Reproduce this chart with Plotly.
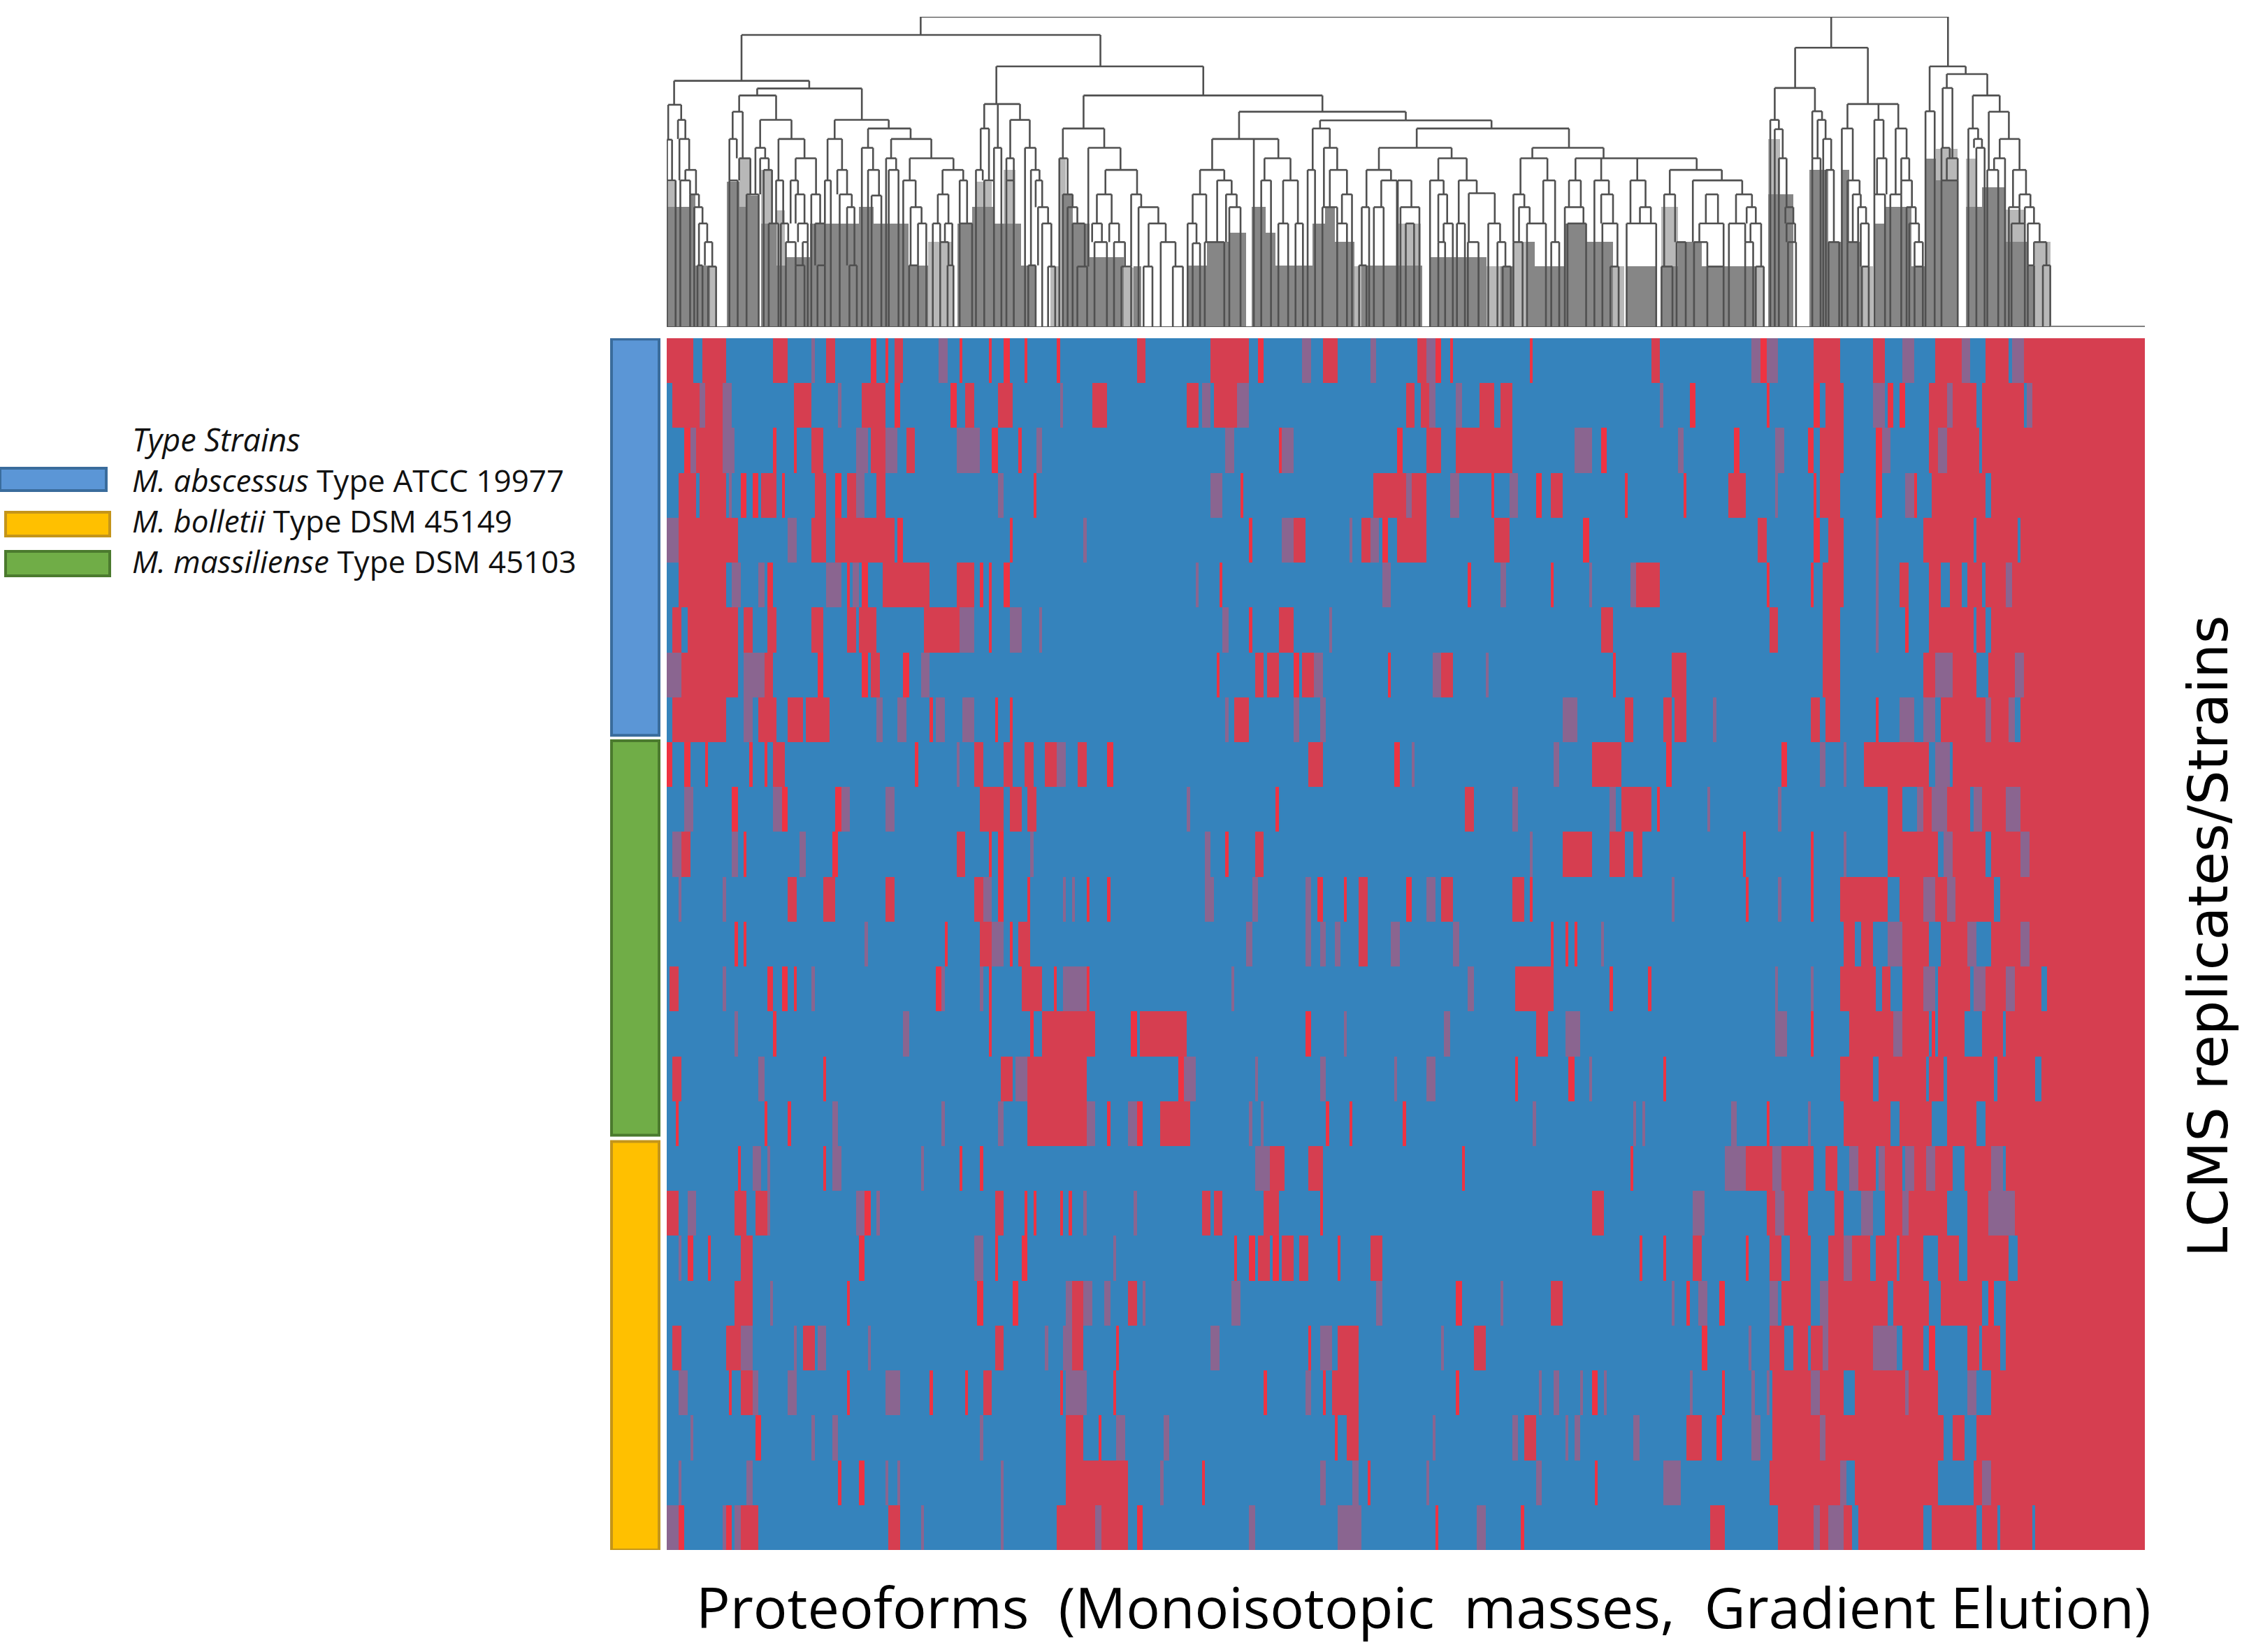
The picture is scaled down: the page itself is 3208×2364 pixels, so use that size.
import plotly.graph_objects as go

W, H = 3208, 2364
N_COLS = 500
N_ROWS = 27

# red (present) column spans for every replicate row, top to bottom
red_spans = [
 [[0,9],[12,20],[36,41],[54,57],[69,71],[74,75],[77,80],[99,100],[109,110],[114,116],[121,122],[132,133],[159,162],[184,197],[200,202],[222,227],[254,257],[260,262],[265,266],[292,293],[333,336],[370,372],[388,397],[408,412],[429,438],[446,454],[459,500]],
 [[2,11],[13,19],[43,49],[66,74],[77,79],[96,98],[101,104],[112,117],[144,149],[176,180],[185,193],[250,253],[255,258],[275,280],[282,286],[346,348],[372,373],[388,390],[392,398],[413,415],[417,419],[427,433],[435,443],[445,459],[462,500]],
 [[6,8],[10,19],[36,37],[43,44],[49,53],[69,74],[81,84],[110,112],[119,120],[207,208],[247,249],[257,262],[267,286],[316,318],[361,363],[386,388],[390,398],[409,411],[427,430],[433,444],[445,500]],
 [[4,10],[11,20],[25,27],[29,31],[32,37],[39,40],[50,54],[57,59],[61,64],[71,74],[124,125],[194,195],[239,250],[252,257],[279,280],[294,296],[299,303],[324,325],[344,345],[359,365],[388,389],[390,397],[409,411],[422,423],[428,446],[448,500]],
 [[4,24],[49,54],[57,77],[78,80],[116,117],[197,198],[212,216],[235,238],[242,244],[247,257],[280,285],[310,312],[369,372],[388,390],[393,398],[425,442],[443,457],[458,500]],
 [[4,20],[34,36],[61,62],[66,68],[73,89],[98,104],[106,107],[109,110],[114,116],[187,188],[271,272],[299,300],[328,336],[372,373],[387,388],[391,398],[417,420],[427,431],[434,438],[440,445],[446,453],[455,500]],
 [[2,5],[7,24],[26,29],[34,37],[49,53],[61,64],[65,71],[87,99],[109,110],[197,198],[207,212],[316,320],[373,376],[391,397],[419,420],[427,442],[443,446],[448,500]],
 [[5,24],[33,36],[51,53],[66,68],[69,72],[80,82],[186,187],[199,202],[203,207],[212,214],[215,219],[244,245],[262,266],[320,321],[340,345],[391,397],[425,429],[435,443],[447,456],[459,500]],
 [[2,20],[31,37],[41,46],[47,55],[89,90],[111,112],[116,117],[192,197],[324,327],[337,340],[341,345],[387,390],[392,397],[409,410],[431,446],[448,454],[458,500]],
 [[0,2],[6,8],[13,14],[28,29],[33,34],[36,40],[84,85],[104,107],[114,117],[121,124],[128,132],[139,142],[149,151],[217,222],[246,248],[313,323],[338,340],[377,379],[405,427],[435,500]],
 [[22,24],[39,41],[57,59],[106,114],[116,120],[122,125],[206,207],[270,273],[323,333],[335,336],[413,418],[425,428],[433,441],[445,453],[458,500]],
 [[5,8],[26,27],[56,58],[98,101],[109,110],[112,114],[189,190],[199,202],[303,313],[319,324],[327,330],[364,365],[387,388],[413,430],[435,446],[448,458],[461,500]],
 [[41,44],[53,57],[74,77],[104,107],[112,114],[122,123],[142,143],[149,150],[220,222],[229,230],[234,237],[250,252],[262,266],[286,290],[292,293],[365,366],[387,388],[397,413],[417,425],[429,433],[436,449],[451,500]],
 [[23,24],[26,27],[94,95],[106,110],[116,117],[119,123],[234,237],[299,300],[304,305],[307,308],[398,402],[404,408],[418,427],[431,440],[448,458],[461,500]],
 [[1,4],[34,36],[39,41],[43,44],[91,93],[109,110],[120,127],[131,132],[142,143],[287,300],[319,320],[332,333],[397,409],[411,414],[418,425],[430,441],[446,453],[456,465],[467,500]],
 [[36,37],[109,110],[123,124],[127,145],[157,159],[160,176],[216,218],[294,298],[387,388],[400,415],[418,427],[428,429],[430,439],[445,452],[453,500]],
 [[2,5],[53,54],[113,117],[122,142],[173,175],[287,288],[305,307],[337,338],[397,408],[410,426],[427,432],[433,449],[450,463],[465,500]],
 [[3,4],[33,34],[41,42],[122,142],[149,150],[159,161],[167,177],[223,224],[231,232],[249,250],[372,373],[398,414],[417,428],[433,443],[446,500]],
 [[24,25],[53,54],[99,100],[106,107],[204,209],[217,222],[269,270],[326,327],[365,374],[377,388],[392,396],[403,409],[412,418],[422,426],[429,435],[439,448],[453,500]],
 [[0,4],[23,27],[30,34],[67,69],[111,114],[121,122],[124,125],[133,134],[136,137],[181,184],[185,188],[202,207],[221,222],[313,317],[372,375],[378,386],[395,398],[412,418],[420,433],[440,447],[456,500]],
 [[7,9],[14,15],[25,29],[65,67],[111,112],[120,122],[192,193],[197,199],[200,204],[205,207],[208,212],[214,217],[227,228],[238,242],[329,330],[337,338],[347,350],[365,366],[373,377],[380,387],[393,398],[401,407],[409,416],[417,425],[430,437],[440,454],[457,500]],
 [[23,29],[61,62],[105,107],[117,119],[137,141],[156,159],[267,269],[299,303],[345,346],[356,358],[377,387],[393,413],[415,427],[431,445],[447,449],[453,500]],
 [[2,5],[20,25],[46,50],[111,114],[137,141],[152,153],[217,218],[227,234],[273,277],[350,352],[373,378],[381,386],[387,391],[393,408],[418,425],[427,429],[440,444],[445,451],[453,500]],
 [[21,22],[25,29],[61,62],[89,90],[101,102],[107,110],[133,134],[151,152],[202,203],[222,223],[225,234],[267,268],[313,315],[357,358],[374,387],[390,398],[402,419],[420,430],[448,500]],
 [[30,32],[135,141],[146,147],[226,227],[230,234],[290,294],[345,350],[355,357],[374,390],[392,432],[435,439],[443,500]],
 [[58,59],[65,67],[135,156],[181,182],[237,238],[314,315],[373,397],[402,430],[442,445],[448,500]],
 [[4,6],[20,22],[25,31],[75,79],[132,145],[147,156],[159,161],[260,261],[289,290],[353,358],[376,388],[390,393],[398,401],[403,425],[428,443],[445,450],[451,462],[463,500]],
]

# intermediate (muted purple) column spans for every replicate row
purple_spans = [
 [[49,50],[92,95],[215,218],[238,240],[257,260],[367,370],[372,376],[418,422],[438,441],[455,459]],
 [[11,13],[19,22],[58,59],[133,134],[181,184],[193,197],[258,260],[267,269],[336,337],[408,412],[433,435],[460,462]],
 [[8,10],[19,23],[64,68],[74,78],[98,106],[125,127],[189,192],[208,212],[307,313],[342,344],[375,378],[411,414],[430,433]],
 [[21,22],[64,67],[112,114],[184,188],[250,252],[265,268],[285,288],[375,376],[419,422]],
 [[0,4],[41,44],[141,142],[208,212],[231,232],[238,241],[409,410]],
 [[22,25],[31,33],[54,59],[63,65],[179,180],[242,245],[282,284],[312,313],[326,328],[409,410],[453,455]],
 [[99,104],[116,120],[126,127],[188,190],[224,225],[409,410]],
 [[0,5],[26,33],[86,89],[219,222],[259,262],[277,278],[429,435],[456,459]],
 [[26,29],[71,73],[78,81],[91,94],[100,104],[189,190],[212,214],[221,223],[303,308],[354,355],[417,422],[425,429],[446,448],[454,456]],
 [[98,99],[132,135],[252,253],[300,302],[390,392],[398,399],[429,434]],
 [[6,9],[36,39],[59,62],[74,77],[176,177],[286,288],[319,321],[352,353],[376,377],[423,425],[428,433],[442,445],[453,458]],
 [[2,5],[22,24],[45,47],[123,124],[182,184],[292,293],[398,399],[432,435],[458,461]],
 [[4,5],[19,20],[107,110],[134,135],[137,138],[182,185],[198,200],[216,218],[257,260],[340,341],[376,377],[425,429],[433,436]],
 [[67,68],[110,114],[196,198],[216,218],[221,223],[226,228],[245,248],[266,268],[316,317],[413,418],[440,443],[458,461]],
 [[19,20],[49,50],[93,94],[106,107],[134,142],[191,192],[271,273],[375,376],[387,388],[425,429],[442,446],[453,456]],
 [[23,24],[80,82],[229,230],[263,265],[304,309],[375,379],[415,418]],
 [[31,33],[118,122],[175,179],[199,200],[221,223],[246,247],[257,260],[312,313]],
 [[56,58],[93,94],[112,114],[142,145],[156,159],[197,198],[201,202],[293,294],[327,328],[330,331],[360,362],[386,387]],
 [[29,32],[34,35],[56,59],[86,87],[199,204],[358,365],[374,377],[400,403],[410,412],[419,422],[426,429],[448,452]],
 [[7,10],[34,35],[64,67],[71,72],[141,142],[158,159],[347,351],[375,378],[404,408],[418,420],[447,456]],
 [[4,5],[104,107],[151,152],[398,401]],
 [[35,36],[135,137],[141,144],[148,150],[161,162],[191,194],[240,242],[282,283],[340,341],[349,352],[373,376],[390,393]],
 [[25,29],[43,44],[51,54],[68,69],[128,129],[134,137],[184,187],[221,225],[262,263],[366,367],[391,393],[408,416]],
 [[4,7],[29,31],[41,44],[74,79],[135,142],[216,218],[295,296],[300,302],[309,310],[317,318],[346,347],[367,368],[372,373],[387,390],[419,420],[440,443]],
 [[8,9],[49,50],[56,58],[106,107],[152,155],[168,170],[259,260],[286,288],[304,305],[307,309],[327,329],[367,370],[390,392]],
 [[4,5],[27,29],[74,75],[78,79],[113,114],[167,168],[221,223],[232,234],[257,258],[294,296],[337,343],[397,399],[445,448]],
 [[0,4],[19,20],[23,25],[86,87],[113,114],[145,147],[197,199],[227,235],[274,277],[388,390],[393,398]],
]

# dendrogram merges: left leaf position, right leaf position, merge height
merges = [
 (85.9,433.4,1333),(25.3,146.7,1255),(381.7,406.3,1200),(427.2,439.4,1120),(111.5,181.5,1120),
 (433,446.7,1087),(2.5,48.2,1058),(374.8,388.4,1027),(30.6,66,1025),(141,221.8,995),(24.5,37,995),(441.8,450.9,995),
 (107.4,119.5,958),(399.4,416.6,958),(0.5,4.9,955),(425.8,428.9,927),(387.5,390.8,927),(193.6,250,925),(22.3,25.7,925),(447.2,454,925),(431.6,434.9,1027),
 (31.6,42.2,890),(56.8,75.1,890),(3.8,6.3,890),(116.2,122.8,890),(373.3,376.2,890),(389.3,392,890),(408.5,411.6,890),(221,279,888),
 (68.1,82.5,853),(106.2,109,853),(134,148,853),(218.5,224.3,853),(253.7,305.2,853),(397.5,401.2,853),(415.7,419.4,853),(440.3,443.6,853),(374.8,377.5,850),
 (4.3,7.6,808),(0.1,1.8,805),(21.2,23.7,808),(37.8,46.6,808),(54.4,59.3,808),(75.9,89.5,808),(184.5,206.9,808),(391.2,393.9,808),(450.9,457.6,808),(442.2,444.9,808),
 (30,33.3,770),(66,69.8,770),(110.7,113.2,770),(121.2,124.8,770),(142.6,153.5,770),(222.3,226.8,770),(240.9,265.5,770),(292.8,316.9,770),(431.2,434,770),(443,445.8,770),
 (24.5,28.3,725),(31.6,34.5,725),(43.6,50.5,725),(74.2,77.6,725),(82.2,97,725),(114.9,117.4,725),(132.8,135.6,725),(202.2,211,725),(261,270.6,725),(288.8,297.9,725),(307.4,348.4,725),(376.2,378.8,725),(387.5,390.3,725),(409.4,412.6,725),(417.6,420.3,725),(433,436.7,725),(449,452.7,725),
 (6.3,9.9,675),(32.8,35.6,675),(57.7,61,675),(68.1,71.8,675),(75.1,78.4,675),(93.3,100.3,675),(104.6,106.9,675),(123.2,126.1,675),(148.4,159.1,675),(180.4,188.6,675),(216.8,219.3,675),(224.3,230.1,675),(236.7,245,675),(339.3,356.9,675),(392.1,394.8,675),(446.7,450.4,675),(455.4,459.8,675),
 (0.1,3,630),(4.6,7.9,630),(21.2,24,630),(37,39.4,630),(41.9,44.4,630),(53.5,55.5,630),(80,84.2,630),(99.1,101.6,630),(107.4,110.7,630),(114.9,117.4,630),(124.8,127,630),(186.2,191.1,630),(201.1,204.4,630),(208.5,213.5,630),(241.7,247,630),(247.3,251.9,630),(258.2,262.8,630),(267.9,274,630),(296.5,300.5,630),(305.2,309.2,630),(313.8,318.7,630),(326,331.1,630),(347.1,363.8,630),(399.4,403.5,630),(417.6,421.2,630),(431.2,436.7,630),
 (271.3,280.1,575),(7.9,10.9,570),(27,31.1,570),(43.6,46.6,570),(48.9,51.9,570),(58.5,62.6,570),(91.7,95.3,570),(134,137.3,570),(145.5,150.5,570),(157.1,160.5,570),(177.9,182.5,570),(189.2,192.8,570),(228.4,231.8,570),(261,264,570),(286.4,290.1,570),(316.1,320.1,570),(337.4,341.1,570),(351.5,355.6,570),(361.7,367.1,570),(401.2,403.9,570),(408.5,412.1,570),(413.9,417.6,570),(457.6,461.3,570),(69.3,72.6,565),
 (9.3,12.1,515),(61,63.5,515),(82.5,86.2,515),(125.6,129,515),(135.6,138.9,515),(159.6,166.3,515),(190.3,194.1,515),(221.8,226.8,515),(235.1,237.6,515),(239.2,242.5,515),(248.2,254.6,515),(288.3,291.9,515),(303.8,310.1,515),(329.2,332.9,515),(365.3,368.4,515),(378.4,381.1,515),(403,405.7,515),(419.4,422.5,515),(454,457.6,515),(459.4,462.5,515),
 (10.9,13.7,445),(34.5,37.8,445),(38.6,41.1,445),(44.4,47.7,445),(50.2,53.5,445),(85,87.8,445),(90,92.5,445),(94.1,96.6,445),(99.1,103.3,445),(127,130.1,445),(137.3,141.4,445),(143.9,147.2,445),(149.7,153,445),(163,168.8,445),(176.2,179.2,445),(206.9,210.2,445),(212.7,215.2,445),(226.8,230.1,445),(250,252.8,445),(262.8,265.9,445),(267.3,270,445),(277.9,281.9,445),(291,297.4,445),(304.7,311,445),(316.5,321.6,445),(324.7,334.7,445),(349.3,357.5,445),(359.3,364.8,445),(366.6,370.2,445),(378.8,381.7,445),(403.9,406.6,445),(420.3,423.6,445),(454.9,459.4,445),(460.4,464.4,445),
 (12.9,15.4,365),(40.3,43.6,365),(46,47.7,365),(92.5,95.3,365),(144.7,148.9,365),(151.3,155,365),(167.1,172.1,365),(182,188.6,365),(261,263.3,365),(271,274.6,365),(281,283.7,365),(286.4,289.5,365),(299.2,301.9,365),(341.6,344.7,365),(347.5,352,365),(364.8,367.5,365),(379.3,382,365),(393,396.6,365),(399.4,403,365),(422.1,424.9,365),(462.5,466.7,365),(177.9,180.4,360),
 (10.4,12.1,265),(43.6,46.6,265),(51,53.5,265),(61.8,64.3,265),(82,85,265),(95,97,265),(122.3,124.8,265),(234.2,236.7,265),(460.4,462.5,265),(465.5,468,265),
 (14,16.7,260),(129,131.4,260),(138.9,142.2,260),(153.8,157.1,260),(161.3,164.3,260),(171.2,174.6,260),(282.8,285.5,260),(319.2,322,260),(336.5,340.2,260),(352,357.5,260),(368.4,371.1,260),(404.3,406.6,260),(422.1,424.9,260),
]
# extra legs of merges that join more than two branches: leaf position, height
extra_legs = [(393.9,1333),(112,958),(409.9,958),(198.6,808),(316.1,725),(328.3,725)]

# filled stem bands at the foot of the dendrogram: first leaf, last leaf, height
dark_bands = [
 (0.1,8,515),(8,9.6,570),(9.6,14.6,265),(20.4,24.5,625),(24.5,27,515),(27,31.1,565),(32,37,445),(37,40.3,265),(40.3,48.5,300),(48.5,65,445),(65,70,515),(70,81.7,445),(81.7,88.3,265),(98.3,103.3,445),(103.3,110.7,515),(110.7,119.8,445),(119.8,124.8,265),
 (134,137.3,570),(137.3,143,445),(143,154.6,300),(158,160.5,260),(176,182.8,265),(182.8,190.3,365),(190.3,196,405),(197.8,202.7,515),(202.7,206,405),(206,218.5,265),(218.5,222.6,445),(222.6,226,515),(226,232.6,365),(235,255.5,265),
 (258,277.3,300),(282,286.5,260),(291,293.7,365),(293.7,303.7,260),(303.7,311,445),(311,320,365),(324.7,334.7,260),(336.5,342,260),(342,350,365),(350,368.4,260),(372.6,381,570),(386.6,393,675),(393,397.5,365),(397.5,400,675),(400,404,365),(408.5,412,445),(412,421,515),(421,425.8,260),(425.8,429.4,725),(429.4,436.7,630),(439.4,444.9,515),(444.9,453,600),(453,460.4,365),(460.4,463,265),
]
light_bands = [
 (0.1,3,625),(14.6,16.7,260),(24.5,28.3,725),(32,36,675),(37,40,500),(88.3,96.6,365),(104.6,110,625),(114,118,675),(129.8,133,260),(132.8,135,725),(154.6,158,255),(232.6,235,260),(247,255,445),(277.3,282,260),(286.5,291,365),(320,323.8,260),(336.5,342,515),(368.4,371,260),(372.6,376.5,808),(404,408,260),(425.8,429,725),(429.4,436.7,765),(439.4,443,725),(453,459,505),(463,468,365),
]

# strain bars beside the heatmap: name, first row edge, last row edge
strain_groups = [("M. abscessus", 0, 8.85), ("M. massiliense", 8.95, 17.76), ("M. bolletii", 17.88, 27)]
strain_fill = {"M. abscessus": "#5B96D6", "M. massiliense": "#70AD47", "M. bolletii": "#FFC000"}
strain_line = {"M. abscessus": "#3A6C9C", "M. massiliense": "#4B7A2E", "M. bolletii": "#C4951A"}
legend_rows = [
 ("M. abscessus", "<i>M. abscessus</i> Type ATCC 19977"),
 ("M. bolletii", "<i>M. bolletii</i> Type DSM 45149"),
 ("M. massiliense", "<i>M. massiliense</i> Type DSM 45103"),
]
legend_title = "<i>Type Strains</i>"
x_title = "Proteoforms\u00a0\u00a0(Monoisotopic\u00a0\u00a0masses,\u00a0\u00a0Gradient Elution)"
y_title = "LCMS replicates/Strains"

# ---------- build matrix ----------
z = [[0] * N_COLS for _ in range(N_ROWS)]
for r in range(N_ROWS):
    for a, b in purple_spans[r]:
        for c in range(a, b):
            z[r][c] = 1
    for a, b in red_spans[r]:
        level = 3 if b - a <= 2 else 2
        for c in range(a, b):
            z[r][c] = level

# ---------- layout helpers (pixel frame of the page) ----------
def px(x): return x / W
def py(y): return 1 - y / H

HM_L, HM_R, HM_T, HM_B = 954, 3069, 484, 2218
DN_T, DN_B = 24, 468

fig = go.Figure()

fig.add_trace(go.Heatmap(
    z=z, x=[c + 0.5 for c in range(N_COLS)], y=[r + 0.5 for r in range(N_ROWS)],
    zmin=0, zmax=3, showscale=False, xaxis="x", yaxis="y", hoverinfo="skip",
    colorscale=[[0, "#3583BC"], [0.25, "#3583BC"], [0.25, "#8A6590"], [0.5, "#8A6590"],
                [0.5, "#D63E50"], [0.75, "#D63E50"], [0.75, "#EE3342"], [1, "#EE3342"]],
))

for bands, colour in ((light_bands, "#B8B8B8"), (dark_bands, "#868686")):
    fig.add_trace(go.Bar(
        x=[(a + b) / 2 for a, b, _ in bands], width=[b - a for a, b, _ in bands],
        y=[t for _, _, t in bands], marker=dict(color=colour, line=dict(width=0)),
        xaxis="x2", yaxis="y2", showlegend=False, hoverinfo="skip",
    ))

def leg_foot(x, h):
    best = 0
    for l, r, m in merges:
        if m < h and l - 0.8 <= x <= r + 0.8 and m > best:
            best = m
    return best

lx, ly = [], []
for l, r, m in merges:
    lx += [l, r, None]; ly += [m, m, None]
    for x in (l, r):
        lx += [x, x, None]; ly += [m, leg_foot(x, m), None]
for x, m in extra_legs:
    lx += [x, x, None]; ly += [m, leg_foot(x, m), None]
fig.add_trace(go.Scatter(x=lx, y=ly, mode="lines", line=dict(color="#505050", width=2.6),
                         xaxis="x2", yaxis="y2", showlegend=False, hoverinfo="skip"))
fig.add_trace(go.Scatter(x=[0, 468], y=[0, 0], mode="lines", line=dict(color="#555555", width=2),
                         xaxis="x2", yaxis="y2", showlegend=False, hoverinfo="skip"))
fig.add_trace(go.Scatter(x=[468, 500], y=[0, 0], mode="lines", line=dict(color="#808080", width=4),
                         xaxis="x2", yaxis="y2", showlegend=False, hoverinfo="skip"))

shapes = []
for name, r0, r1 in strain_groups:
    shapes.append(dict(type="rect", xref="paper", yref="y", x0=px(875), x1=px(943),
                       y0=r0 + 0.02, y1=r1, fillcolor=strain_fill[name],
                       line=dict(color=strain_line[name], width=4)))

legend_y = {"M. abscessus": (670, 702, 0, 152), "M. bolletii": (733, 767, 8, 157), "M. massiliense": (789, 824, 8, 157)}
text_y = {"M. abscessus": 687, "M. bolletii": 745, "M. massiliense": 803}
annotations = [dict(text=legend_title, xref="paper", yref="paper", x=px(187), y=py(628), xanchor="left",
                    yanchor="middle", showarrow=False, font=dict(family="Open Sans", size=45, color="#111111"))]
for name, label in legend_rows:
    t, b, l, r = legend_y[name]
    shapes.append(dict(type="rect", xref="paper", yref="paper", x0=px(l), x1=px(r), y0=py(t), y1=py(b),
                       fillcolor=strain_fill[name], line=dict(color=strain_line[name], width=4)))
    annotations.append(dict(text=label, xref="paper", yref="paper", x=px(187), y=py(text_y[name]), xanchor="left",
                            yanchor="middle", showarrow=False, font=dict(family="Open Sans", size=44, color="#111111")))

annotations.append(dict(text=x_title, xref="paper", yref="paper", x=px(3080), y=py(2298), xanchor="right",
                        yanchor="middle", showarrow=False, font=dict(family="Open Sans", size=81, color="#000000")))
annotations.append(dict(text=y_title, xref="paper", yref="paper", x=px(3160), y=py(1340), xanchor="center",
                        yanchor="middle", textangle=-90, showarrow=False,
                        font=dict(family="DejaVu Sans", size=78, color="#000000")))

fig.update_layout(
    width=W, height=H, margin=dict(l=0, r=0, t=0, b=0), paper_bgcolor="white", plot_bgcolor="white",
    barmode="overlay", bargap=0, showlegend=False, shapes=shapes, annotations=annotations,
    xaxis=dict(domain=[px(HM_L), px(HM_R)], range=[0, N_COLS], visible=False),
    yaxis=dict(domain=[py(HM_B), py(HM_T)], range=[N_ROWS, 0], visible=False),
    xaxis2=dict(domain=[px(HM_L), px(HM_R)], range=[0, N_COLS], visible=False, anchor="y2"),
    yaxis2=dict(domain=[py(DN_B), py(DN_T)], range=[0, 1333], visible=False, anchor="x2"),
)

fig.write_html("out.html", config={"displayModeBar": False}, post_script="document.body.style.margin='0';")
